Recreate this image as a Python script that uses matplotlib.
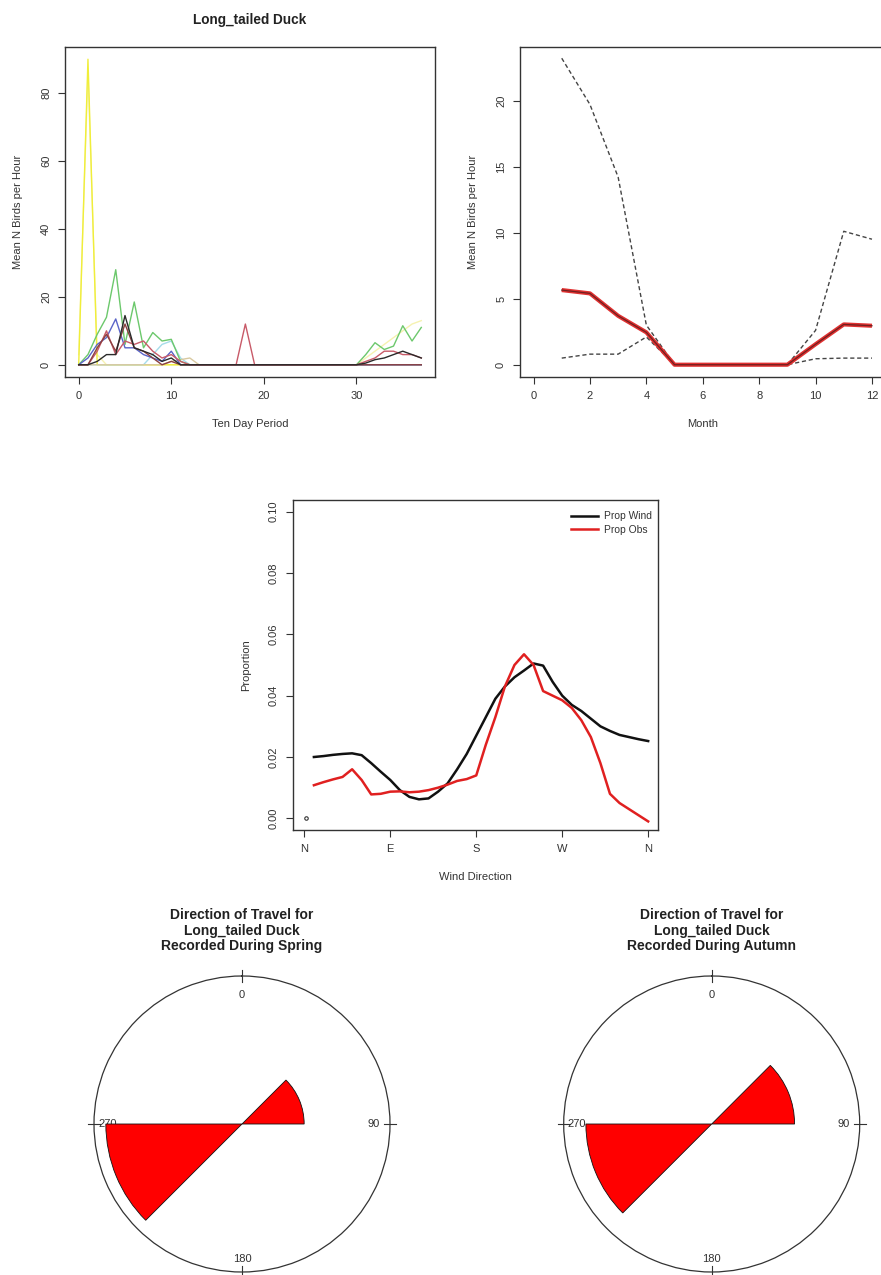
import numpy as np
import matplotlib
matplotlib.use("Agg")
import matplotlib.pyplot as plt

plt.rcParams['font.family'] = ['Liberation Sans', 'DejaVu Sans']

# ---------------- data ----------------
period = list(range(38))
z = [0] * 38

def series(vals):
    s = list(z)
    for k, v in vals.items():
        s[k] = v
    return s

yr_yellow = series({1: 90})
yr_paleyellow = series({0: 3, 1: 86, 2: 3, 31: 2, 32: 4, 33: 6, 34: 8, 35: 10, 36: 12, 37: 13})
yr_green = series({1: 3, 2: 9, 3: 14, 4: 28, 5: 6, 6: 18.5, 7: 5, 8: 9.5, 9: 7, 10: 7.5, 11: 1,
                   31: 3, 32: 6.5, 33: 4.5, 34: 5.5, 35: 11.5, 36: 7, 37: 11})
yr_blue = series({1: 2, 2: 6, 3: 8, 4: 13.5, 5: 5, 6: 5, 7: 3, 8: 2, 9: 1, 10: 4})
yr_red = series({2: 4, 3: 10, 4: 3, 5: 7, 6: 6, 7: 7, 8: 4, 9: 2, 10: 3, 11: 1, 18: 12,
                 31: 1, 32: 2, 33: 4, 34: 4, 35: 3, 36: 3, 37: 2})
yr_black = series({2: 1, 3: 3, 4: 3, 5: 14.5, 6: 5, 7: 4, 8: 3, 9: 1, 10: 2,
                   31: 0.5, 32: 1.5, 33: 2, 34: 3, 35: 4, 36: 3, 37: 2})
yr_maroon = series({2: 5, 3: 9, 4: 4, 5: 12, 6: 5, 7: 4, 8: 2, 10: 1})
yr_cyan = series({8: 3, 9: 6, 10: 7, 11: 2})
yr_tan = series({10: 1, 11: 1.5, 12: 2})
year_series = [yr_paleyellow, yr_yellow, yr_cyan, yr_tan, yr_green, yr_blue, yr_red, yr_maroon, yr_black]
year_colors = ['#f6f2b0', '#f0ee3a', '#a6dcea', '#d9c9a0', '#6cc86c', '#5a64c8', '#c85a68', '#8b4040', '#2a2a2a']

months = [1, 2, 3, 4, 5, 6, 7, 8, 9, 10, 11, 12]
month_mean = [5.65, 5.4, 3.7, 2.45, 0, 0, 0, 0, 0, 1.55, 3.05, 2.95]
month_upper = [23.2, 19.7, 14.2, 3.0, 0, 0, 0, 0, 0, 2.6, 10.1, 9.5]
month_lower = [0.5, 0.8, 0.8, 2.1, 0, 0, 0, 0, 0, 0.45, 0.5, 0.5]

wind_deg = list(range(10, 361, 10))
prop_wind = [0.0200, 0.0203, 0.0207, 0.0210, 0.0212, 0.0206, 0.0180, 0.0152, 0.0125, 0.0092,
             0.0070, 0.0062, 0.0065, 0.0087, 0.0114, 0.0160, 0.0210, 0.0270, 0.0330, 0.0390,
             0.0430, 0.0460, 0.0482, 0.0505, 0.0498, 0.0445, 0.0400, 0.0370, 0.0350, 0.0325,
             0.0300, 0.0285, 0.0272, 0.0265, 0.0258, 0.0252]
prop_obs = [0.0108, 0.0118, 0.0127, 0.0135, 0.0160, 0.0125, 0.0078, 0.0080, 0.0087, 0.0088,
            0.0085, 0.0087, 0.0092, 0.0100, 0.0110, 0.0122, 0.0128, 0.0140, 0.0240, 0.0330,
            0.0430, 0.0500, 0.0535, 0.0500, 0.0415, 0.0400, 0.0385, 0.0360, 0.0320, 0.0265,
            0.0180, 0.0080, 0.0050, 0.0030, 0.0010, -0.0010]
wind_ticks = [0, 90, 180, 270, 360]
wind_labels = ['N', 'E', 'S', 'W', 'N']

rose_dirs = [67.5, 247.5]     # sector centres (deg)
rose_width = 45
spring_len = [0.42, 0.92]
autumn_len = [0.56, 0.85]

# ---------------- layout ----------------
W, H = 881, 1275
fig = plt.figure(figsize=(W / 100, H / 100), dpi=100)

def ax_px(l, t, r, b, **kw):
    return fig.add_axes([l / W, 1 - b / H, (r - l) / W, (b - t) / H], **kw)

FS = 8
SPC = '#333333'
TXT = '#333333'

def style(ax, wpx, hpx):
    for s in ax.spines.values():
        s.set_color(SPC)
        s.set_linewidth(1.0)
    ax.tick_params(length=5, width=0.8, pad=5, labelsize=FS, colors=SPC, labelcolor=TXT)
    ax.tick_params(axis='y', labelrotation=90)
    for lab in ax.get_yticklabels():
        lab.set_va('center')
    ax.xaxis.set_label_coords(0.5, -42 / hpx)
    ax.yaxis.set_label_coords(-42 / wpx, 0.5)

# top-left
ax1 = ax_px(65, 47, 435, 377)
for s, c in zip(year_series, year_colors):
    ax1.plot(period, s, color=c, lw=1.0)
ax1.set_xlim(-1.48, 38.48)
ax1.set_ylim(-3.6, 93.6)
ax1.set_xticks([0, 10, 20, 30])
ax1.set_yticks([0, 20, 40, 60, 80])
ax1.set_xlabel('Ten Day Period', fontsize=FS, color=TXT)
ax1.set_ylabel('Mean N Birds per Hour', fontsize=FS, color=TXT)
style(ax1, 370, 330)
fig.text(250 / W, 1 - 20 / H, 'Long_tailed Duck', ha='center', va='center',
         fontsize=9.8, fontweight='bold', color='#222222')

# top-right
ax2 = ax_px(520, 47, 885.5, 377)
ax2.plot(months, month_upper, color='#444444', lw=1.0, ls=(0, (3, 2)))
ax2.plot(months, month_lower, color='#444444', lw=1.0, ls=(0, (3, 2)))
ax2.plot(months, month_mean, color='#e03030', lw=3.0, solid_capstyle='butt')
ax2.plot(months, month_mean, color='#702020', lw=0.9)
ax2.set_xlim(-0.48, 12.48)
ax2.set_ylim(-0.93, 24.05)
ax2.set_xticks([0, 2, 4, 6, 8, 10, 12])
ax2.set_yticks([0, 5, 10, 15, 20])
ax2.set_xlabel('Month', fontsize=FS, color=TXT)
ax2.set_ylabel('Mean N Birds per Hour', fontsize=FS, color=TXT)
style(ax2, 365.5, 330)

# middle
ax3 = ax_px(292.7, 500, 658, 830)
ax3.plot(wind_deg, prop_wind, color='#111111', lw=1.8, label='Prop Wind')
ax3.plot(wind_deg, prop_obs, color='#e02020', lw=1.8, label='Prop Obs')
ax3.plot([2], [0.0002], ls='none', marker='o', ms=2.5, mfc='none', mec='#333333', mew=0.8)
ax3.set_xlim(-12.2, 370.3)
ax3.set_ylim(-0.0038, 0.1038)
ax3.set_xticks(wind_ticks)
ax3.set_xticklabels(wind_labels)
ax3.set_yticks([0.00, 0.02, 0.04, 0.06, 0.08, 0.10])
ax3.set_yticklabels(['0.00', '0.02', '0.04', '0.06', '0.08', '0.10'])
ax3.set_xlabel('Wind Direction', fontsize=FS, color=TXT)
ax3.set_ylabel('Proportion', fontsize=FS, color=TXT)
style(ax3, 365.3, 330)
ax3.legend(loc='upper right', bbox_to_anchor=(1.0, 0.985), frameon=False, fontsize=7.4,
           handlelength=2.6, borderaxespad=0.2, labelspacing=0.35, handletextpad=0.6,
           labelcolor=TXT)

# roses
def rose(cx, cy, r, lens, title):
    ax = ax_px(cx - r, cy - r, cx + r, cy + r, projection='polar')
    ax.set_theta_zero_location('N')
    ax.set_theta_direction(-1)
    ax.bar(np.deg2rad(rose_dirs), lens, width=np.deg2rad(rose_width), bottom=0,
           color='#ff0000', edgecolor='#111111', linewidth=0.6, zorder=3)
    ax.set_ylim(0, 1)
    ax.grid(False)
    ax.set_xticks([])
    ax.set_yticks([])
    ax.spines['polar'].set_color('#333333')
    ax.spines['polar'].set_linewidth(0.9)
    for ang, lab, rr in [(0, '0', 0.87), (90, '90', 0.89), (180, '180', 0.91), (270, '270', 0.91)]:
        t = np.deg2rad(ang)
        ax.plot([t, t], [0.96, 1.04], color='#333333', lw=0.8, clip_on=False)
        ax.text(t, rr, lab, ha='center', va='center', fontsize=FS, color=TXT, zorder=1)
    fig.text(cx / W, 1 - 908 / H, title, ha='center', va='top', fontsize=10,
             fontweight='bold', linespacing=1.15, color='#222222')

rose(242, 1124, 148, spring_len,
     'Direction of Travel for\nLong_tailed Duck\nRecorded During Spring')
rose(711.7, 1124, 148, autumn_len,
     'Direction of Travel for\nLong_tailed Duck\nRecorded During Autumn')

fig.savefig('out.png', dpi=100)
